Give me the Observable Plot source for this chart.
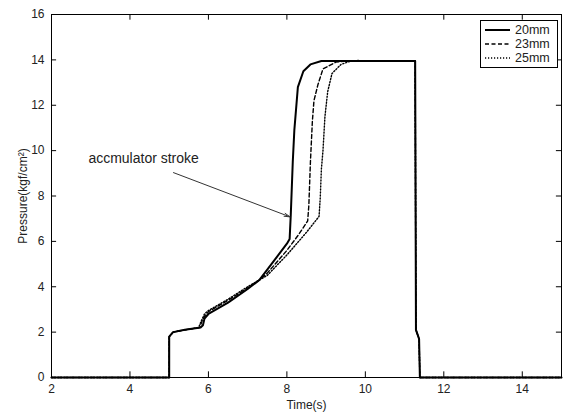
<!DOCTYPE html>
<html>
<head>
<meta charset="utf-8">
<script src="https://cdn.jsdelivr.net/npm/d3@7"></script>
<script src="https://cdn.jsdelivr.net/npm/@observablehq/plot@0.6"></script>
<style>
  html, body { margin: 0; padding: 0; background: #fff; }
  #wrap { position: relative; width: 565px; height: 412px; font-family: "Liberation Sans", Arial, sans-serif; }
  #legend { position: absolute; left: 480px; top: 20px; width: 76px; height: 46px; border: 1px solid #000; background: #fff; font-size: 12.5px; color: #222; }
  #legend .row { position: absolute; left: 4px; height: 14px; display: flex; align-items: center; }
  #legend .row span { margin-left: 5px; }
</style>
</head>
<body>
<div id="wrap"></div>
<script>
// Series: time (s) and pressure (kgf/cm²)
const t20 = [2, 5.0, 5.0, 5.1, 5.4, 5.8, 5.86, 5.9, 6.0, 6.5, 7.0, 7.3, 7.5, 8.0, 8.07, 8.1, 8.15, 8.19, 8.28, 8.42, 8.6, 8.88, 11.27, 11.29, 11.37, 11.39, 15];
const p20 = [0, 0, 1.8, 2.0, 2.1, 2.2, 2.3, 2.6, 2.8, 3.3, 3.9, 4.3, 4.75, 5.9, 6.1, 7.2, 9.5, 10.9, 12.8, 13.5, 13.8, 13.95, 13.95, 2.1, 1.7, 0, 0];
const t23 = [2, 5.0, 5.0, 5.1, 5.4, 5.78, 5.84, 5.9, 6.0, 6.5, 7.0, 7.3, 7.5, 8.0, 8.3, 8.53, 8.56, 8.6, 8.65, 8.69, 8.79, 8.92, 9.25, 9.5, 11.27, 11.29, 11.37, 11.39, 15];
const p23 = [0, 0, 1.8, 2.0, 2.1, 2.2, 2.5, 2.7, 2.9, 3.4, 3.95, 4.3, 4.6, 5.6, 6.3, 6.9, 7.6, 9.5, 11.3, 12.2, 12.9, 13.6, 13.9, 13.95, 13.95, 2.1, 1.7, 0, 0];
const t25 = [2, 5.0, 5.0, 5.1, 5.4, 5.75, 5.82, 5.9, 6.0, 6.5, 7.0, 7.3, 7.5, 8.0, 8.5, 8.82, 8.85, 8.88, 8.92, 8.97, 9.04, 9.15, 9.38, 9.6, 9.8, 11.27, 11.29, 11.37, 11.39, 15];
const p25 = [0, 0, 1.8, 2.0, 2.1, 2.2, 2.5, 2.8, 2.95, 3.45, 4.0, 4.3, 4.5, 5.4, 6.4, 7.1, 7.9, 9.2, 10.0, 11.5, 12.6, 13.4, 13.8, 13.93, 13.97, 13.95, 2.1, 1.7, 0, 0];

const seriesNames = ["20mm", "23mm", "25mm"];
const xTicks = [2, 4, 6, 8, 10, 12, 14];
const yTicks = [0, 2, 4, 6, 8, 10, 12, 14, 16];

// Annotation: label and arrow (data coordinates)
const noteText = "accmulator stroke";
const noteLabel = [{x: 2.94, y: 9.65}];
const noteArrow = [{x1: 5.11, y1: 9.03, x2: 8.08, y2: 7.08}];

const toRows = (ts, ps, s) => ts.map((t, i) => ({t, p: ps[i], s}));
const d20 = toRows(t20, p20, seriesNames[0]);
const d23 = toRows(t23, p23, seriesNames[1]);
const d25 = toRows(t25, p25, seriesNames[2]);

const font = "Liberation Sans, Arial, sans-serif";

const chart = Plot.plot({
  width: 565,
  height: 412,
  marginLeft: 51,
  marginRight: 4,
  marginTop: 14,
  marginBottom: 35,
  style: {fontFamily: font, fontSize: "11px", color: "#222", background: "#fff"},
  x: {domain: [2, 15]},
  y: {domain: [0, 16]},
  marks: [
    Plot.axisX({ticks: xTicks, tickSize: 0, tickPadding: 7, label: "Time(s)", labelAnchor: "center", labelArrow: false, labelOffset: 31, fontSize: 12, color: "#222"}),
    Plot.axisY({ticks: yTicks, tickSize: 0, tickPadding: 7, label: "Pressure(kgf/cm²)", labelAnchor: "center", labelArrow: false, labelOffset: 33, fontSize: 12, color: "#222"}),
    // inward ticks on all four sides
    Plot.ruleX(xTicks, {x: d => d, y1: 0, y2: 0.25, stroke: "#000"}),
    Plot.ruleX(xTicks, {x: d => d, y1: 16, y2: 15.75, stroke: "#000"}),
    Plot.ruleY(yTicks, {y: d => d, x1: 2, x2: 2.13, stroke: "#000"}),
    Plot.ruleY(yTicks, {y: d => d, x1: 15, x2: 14.87, stroke: "#000"}),
    Plot.line(d25, {x: "t", y: "p", stroke: "#000", strokeWidth: 1.4, strokeDasharray: "1.2,1.8"}),
    Plot.line(d23, {x: "t", y: "p", stroke: "#000", strokeWidth: 1.4, strokeDasharray: "4,2.5"}),
    Plot.line(d20, {x: "t", y: "p", stroke: "#000", strokeWidth: 2}),
    Plot.frame({stroke: "#000"}),
    Plot.text(noteLabel, {x: "x", y: "y", text: () => noteText, textAnchor: "start", fontSize: 14, fill: "#222"}),
    Plot.arrow(noteArrow, {x1: "x1", y1: "y1", x2: "x2", y2: "y2", stroke: "#333", strokeWidth: 1, headLength: 9, headAngle: 30})
  ]
});

const wrap = document.getElementById("wrap");
wrap.appendChild(chart);

// Legend overlay
const legend = document.createElement("div");
legend.id = "legend";
const dashes = [null, "4,2.5", "1.2,1.8"];
const widths = [2, 1.4, 1.4];
seriesNames.forEach((name, i) => {
  const row = document.createElement("div");
  row.className = "row";
  row.style.top = (2 + i * 14) + "px";
  row.innerHTML = `<svg width="25" height="6"><line x1="0" y1="3" x2="25" y2="3" stroke="#000" stroke-width="${widths[i]}" ${dashes[i] ? `stroke-dasharray="${dashes[i]}"` : ""}/></svg><span>${name}</span>`;
  legend.appendChild(row);
});
wrap.appendChild(legend);
</script>
</body>
</html>
